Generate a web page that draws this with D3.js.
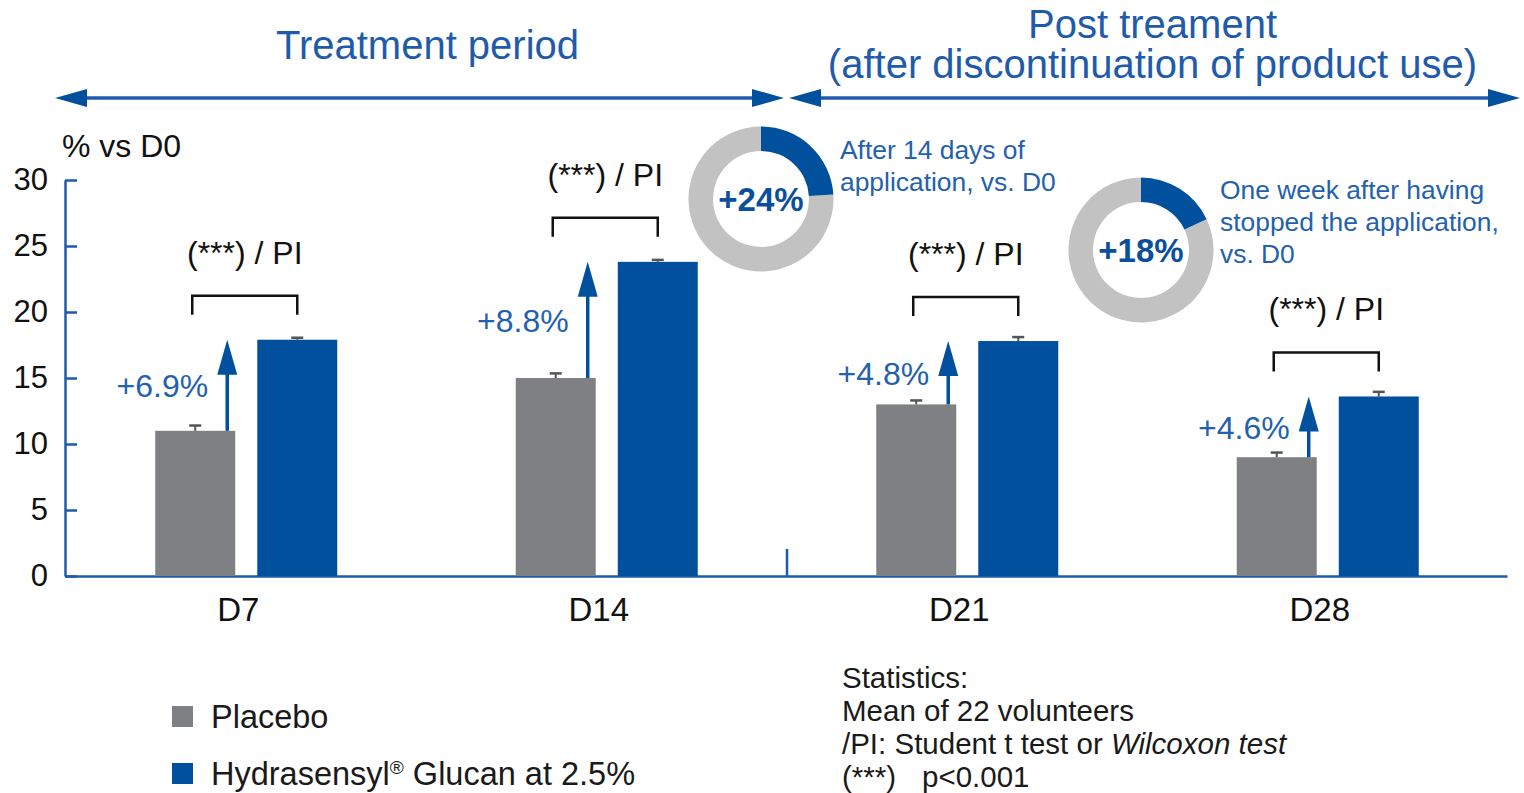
<!DOCTYPE html>
<html>
<head>
<meta charset="utf-8">
<script src="https://cdn.jsdelivr.net/npm/d3@7"></script>
<style>
  html, body { margin: 0; padding: 0; background: #ffffff; }
  svg { display: block; font-family: "Liberation Sans", Arial, sans-serif; }
</style>
</head>
<body>
<svg id="chart" width="1524" height="793"></svg>
<script>
// ---- data ----
const days = ["D7", "D14", "D21", "D28"];
const seriesNames = ["Placebo", "Hydrasensyl® Glucan at 2.5%"];
const placeboValues = [11.0, 15.0, 13.0, 9.0];
const placeboErrors = [0.4, 0.35, 0.3, 0.35];
const glucanValues = [17.9, 23.8, 17.8, 13.6];
const glucanErrors = [0.15, 0.15, 0.3, 0.35];
const yTicks = [0, 5, 10, 15, 20, 25, 30];
const significance = ["(***) / PI", "(***) / PI", "(***) / PI", "(***) / PI"];
const donutValues = [24, 18];
const donutNotes = [
  ["After 14 days of", "application, vs. D0"],
  ["One week after having", "stopped the application,", "vs. D0"]
];
const periodTitles = [["Treatment period"], ["Post treament", "(after discontinuation of product use)"]];
const statLines = ["Statistics:", "Mean of 22 volunteers"];

// ---- styles ----
const GRAY = "#7f8084";
const BLUE = "#00509e";
const AXIS_BLUE = "#1f5bab";
const TEXT_BLUE = "#2361ae";
const RING_GRAY = "#c2c2c2";

const svg = d3.select("#chart");

const x = d3.scaleBand().domain(days).range([65, 1507]).paddingInner(0).paddingOuter(0);
const inner = d3.scaleBand().domain(seriesNames).range([-90, 92]).paddingInner(0.216);
const y = d3.scaleLinear().domain([0, 30]).range([576, 180]);

const rows = days.map((d, i) => ({
  day: d,
  placebo: placeboValues[i], placeboErr: placeboErrors[i],
  glucan: glucanValues[i], glucanErr: glucanErrors[i],
  sig: significance[i]
}));

// ---- period headers ----
const periodDivide = x("D21");
const periods = [
  { x0: 55, x1: periodDivide - 2, titles: periodTitles[0], shift: 8 },
  { x0: periodDivide + 3, x1: 1520, titles: periodTitles[1], shift: -2 }
];
const arrowY = 98;
periods.forEach(p => {
  const g = svg.append("g");
  g.append("line").attr("x1", p.x0 + 20).attr("x2", p.x1 - 20)
    .attr("y1", arrowY).attr("y2", arrowY)
    .attr("stroke", AXIS_BLUE).attr("stroke-width", 3.5);
  g.append("path").attr("d", `M${p.x0},${arrowY} L${p.x0 + 32},${arrowY - 9} L${p.x0 + 32},${arrowY + 9} Z`).attr("fill", BLUE);
  g.append("path").attr("d", `M${p.x1},${arrowY} L${p.x1 - 32},${arrowY - 9} L${p.x1 - 32},${arrowY + 9} Z`).attr("fill", BLUE);
  const cx = (p.x0 + p.x1) / 2 + p.shift;
  const n = p.titles.length;
  p.titles.forEach((t, i) => {
    g.append("text").attr("x", cx).attr("y", n === 1 ? 59 : 38 + i * 40)
      .attr("text-anchor", "middle").attr("font-size", 40)
      .attr("fill", AXIS_BLUE).text(t);
  });
});

// ---- y axis ----
const yAxis = svg.append("g").attr("transform", "translate(65,0)")
  .call(d3.axisLeft(y).tickValues(yTicks).tickSizeInner(-12).tickSizeOuter(0).tickPadding(17));
yAxis.select(".domain").attr("stroke", AXIS_BLUE).attr("stroke-width", 2.5);
yAxis.selectAll(".tick line").attr("stroke", AXIS_BLUE).attr("stroke-width", 2.5);
yAxis.selectAll(".tick text").attr("font-size", 31).attr("fill", "#111")
  .attr("font-family", "Liberation Sans, Arial, sans-serif");

svg.append("text").attr("x", 62).attr("y", 157).attr("font-size", 32).attr("fill", "#111").text("% vs D0");

// ---- x axis ----
const xAxis = svg.append("g").attr("transform", `translate(0,${y(0)})`)
  .call(d3.axisBottom(x).tickSize(0).tickPadding(22));
xAxis.select(".domain").attr("stroke", AXIS_BLUE).attr("stroke-width", 2.5);
xAxis.selectAll(".tick text").attr("font-size", 33).attr("fill", "#111").attr("dx", -7)
  .attr("font-family", "Liberation Sans, Arial, sans-serif");

// break marker between treatment and post-treatment
svg.append("line").attr("x1", periodDivide + 1).attr("x2", periodDivide + 1)
  .attr("y1", y(0)).attr("y2", y(0) - 27).attr("stroke", AXIS_BLUE).attr("stroke-width", 2.5);

// ---- bars ----
const bw = inner.bandwidth();
const groups = svg.append("g").selectAll("g").data(rows).join("g")
  .attr("transform", d => `translate(${x(d.day) + x.bandwidth() / 2},0)`);

const barSpecs = [
  { key: "placebo", err: "placeboErr", name: seriesNames[0], color: GRAY },
  { key: "glucan", err: "glucanErr", name: seriesNames[1], color: BLUE }
];

barSpecs.forEach(s => {
  // error bars (upper half)
  groups.append("line")
    .attr("x1", inner(s.name) + bw / 2).attr("x2", inner(s.name) + bw / 2)
    .attr("y1", d => y(d[s.key])).attr("y2", d => y(d[s.key] + d[s.err]))
    .attr("stroke", "#555").attr("stroke-width", 2);
  groups.append("line")
    .attr("x1", inner(s.name) + bw / 2 - 6).attr("x2", inner(s.name) + bw / 2 + 6)
    .attr("y1", d => y(d[s.key] + d[s.err])).attr("y2", d => y(d[s.key] + d[s.err]))
    .attr("stroke", "#555").attr("stroke-width", 2.5);
  groups.append("rect")
    .attr("x", inner(s.name)).attr("width", bw)
    .attr("y", d => y(d[s.key])).attr("height", d => y(0) - y(d[s.key]))
    .attr("fill", s.color);
});

// ---- difference arrows ----
const arrowX = inner(seriesNames[0]) + bw - 8;
groups.append("line")
  .attr("x1", arrowX).attr("x2", arrowX)
  .attr("y1", d => y(d.placebo)).attr("y2", d => y(d.glucan) + 30)
  .attr("stroke", BLUE).attr("stroke-width", 3.5);
groups.append("path")
  .attr("d", d => `M${arrowX},${y(d.glucan)} L${arrowX - 10},${y(d.glucan) + 35} L${arrowX + 10},${y(d.glucan) + 35} Z`)
  .attr("fill", BLUE);
groups.append("text")
  .attr("x", arrowX - 19)
  .attr("y", d => (y(d.placebo) + y(d.glucan)) / 2 + 12)
  .attr("text-anchor", "end").attr("font-size", 32).attr("fill", TEXT_BLUE)
  .text(d => "+" + (d.glucan - d.placebo).toFixed(1) + "%");

// ---- significance brackets ----
const bx0 = inner(seriesNames[0]) + bw / 2 - 3;
const bx1 = inner(seriesNames[1]) + bw / 2;
groups.append("path")
  .attr("d", d => {
    const top = y(d.glucan) - 44;
    return `M${bx0},${top + 19} V${top} H${bx1} V${top + 19}`;
  })
  .attr("fill", "none").attr("stroke", "#111").attr("stroke-width", 2.5);
groups.append("text")
  .attr("x", (bx0 + bx1) / 2)
  .attr("y", d => y(d.glucan) - 44 - 32)
  .attr("text-anchor", "middle").attr("font-size", 32).attr("fill", "#111")
  .text(d => d.sig);

// ---- donuts ----
const donutCenters = [[761, 199], [1141, 250]];
const arc = d3.arc().innerRadius(48).outerRadius(72.5);
donutValues.forEach((v, i) => {
  const [cx, cy] = donutCenters[i];
  const g = svg.append("g").attr("transform", `translate(${cx},${cy})`);
  const share = v / 100 * 2 * Math.PI;
  g.append("path").attr("d", arc({ startAngle: share, endAngle: 2 * Math.PI })).attr("fill", RING_GRAY);
  g.append("path").attr("d", arc({ startAngle: 0, endAngle: share })).attr("fill", BLUE);
  g.append("text").attr("text-anchor", "middle").attr("y", 12)
    .attr("font-size", 33).attr("font-weight", "bold").attr("fill", "#0b4f9c")
    .text("+" + v + "%");
  donutNotes[i].forEach((line, j) => {
    g.append("text").attr("x", 79).attr("y", (i === 0 ? -40 : -51) + j * 32)
      .attr("font-size", 26.4).attr("fill", TEXT_BLUE).text(line);
  });
});

// ---- legend ----
const legend = svg.append("g");
barSpecs.forEach((s, i) => {
  const ly = 706 + i * 57;
  legend.append("rect").attr("x", 172).attr("y", ly).attr("width", 21).attr("height", 21).attr("fill", s.color);
  const t = legend.append("text").attr("x", 211).attr("y", ly + 22).attr("font-size", 32.5).attr("fill", "#1a1a1a");
  if (i === 0) {
    t.text(s.name);
  } else {
    t.append("tspan").text("Hydrasensyl");
    t.append("tspan").attr("font-size", 19).attr("dy", -11).text("®");
    t.append("tspan").attr("dy", 11).text(" Glucan at 2.5%");
  }
});

// ---- statistics note ----
const stats = svg.append("g").attr("font-size", 29.5).attr("fill", "#1a1a1a");
statLines.forEach((l, i) => {
  stats.append("text").attr("x", 842).attr("y", 688 + i * 33).text(l);
});
const s3 = stats.append("text").attr("x", 842).attr("y", 688 + 2 * 33);
s3.append("tspan").text("/PI: Student t test or ");
s3.append("tspan").attr("font-style", "italic").text("Wilcoxon test");
const s4 = stats.append("text").attr("x", 842).attr("y", 688 + 3 * 33);
s4.append("tspan").text("(***)");
s4.append("tspan").attr("x", 922).text("p<0.001");
</script>
</body>
</html>
